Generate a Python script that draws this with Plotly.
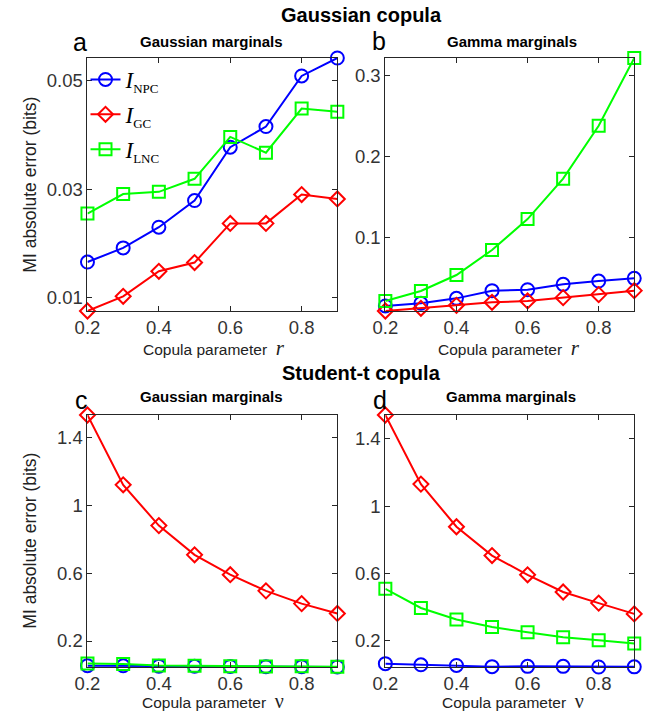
import plotly.graph_objects as go
from plotly.subplots import make_subplots

# ---------------- data ----------------
param = [0.2, 0.3, 0.4, 0.5, 0.6, 0.7, 0.8, 0.9]

a_npc = [0.0166, 0.0192, 0.0230, 0.0279, 0.0377, 0.0415, 0.0508, 0.0541]
a_gc = [0.0076, 0.0103, 0.0149, 0.0165, 0.0237, 0.0237, 0.0290, 0.0282]
a_lnc = [0.0255, 0.0291, 0.0295, 0.0319, 0.0396, 0.0367, 0.0448, 0.0442]

b_npc = [0.0154, 0.0187, 0.0248, 0.0343, 0.0355, 0.0421, 0.0462, 0.0495]
b_gc = [0.0092, 0.0125, 0.0162, 0.0199, 0.0216, 0.0257, 0.0294, 0.0343]
b_lnc = [0.0216, 0.0339, 0.0536, 0.0844, 0.1226, 0.1725, 0.2378, 0.3214]

c_npc = [0.055, 0.054, 0.052, 0.051, 0.050, 0.049, 0.049, 0.047]
c_gc = [1.530, 1.119, 0.879, 0.707, 0.590, 0.495, 0.420, 0.362]
c_lnc = [0.067, 0.065, 0.056, 0.055, 0.052, 0.050, 0.051, 0.048]

d_npc = [0.065, 0.058, 0.054, 0.047, 0.049, 0.049, 0.045, 0.046]
d_gc = [1.540, 1.130, 0.877, 0.706, 0.592, 0.490, 0.424, 0.360]
d_lnc = [0.509, 0.395, 0.327, 0.282, 0.251, 0.221, 0.204, 0.184]

x_ticks = [0.2, 0.4, 0.6, 0.8]
y_ticks_a = [0.01, 0.03, 0.05]
y_ticks_b = [0.1, 0.2, 0.3]
y_ticks_cd = [0.2, 0.6, 1, 1.4]

series_names = ["NPC", "GC", "LNC"]
panel_titles = ["Gaussian marginals", "Gamma marginals", "Gaussian marginals", "Gamma marginals"]
panel_letters = ["a", "b", "c", "d"]
section_titles = ["Gaussian copula", "Student-t copula"]

# ---------------- styling ----------------
W, H = 646, 712
colors = {"NPC": "#0000FF", "GC": "#FF0000", "LNC": "#00FF00"}
symbols = {"NPC": "circle-open", "GC": "diamond-open", "LNC": "square-open"}
msizes = {"NPC": 13, "GC": 11.5, "LNC": 12}
SANS = "Liberation Sans, Arial, sans-serif"
SERIF = "Liberation Serif, Times New Roman, serif"
AX = "#262626"

fig = make_subplots(rows=2, cols=2)

panels = [
    (1, 1, [a_npc, a_gc, a_lnc], y_ticks_a),
    (1, 2, [b_npc, b_gc, b_lnc], y_ticks_b),
    (2, 1, [c_npc, c_gc, c_lnc], y_ticks_cd),
    (2, 2, [d_npc, d_gc, d_lnc], y_ticks_cd),
]

for pi, (r, c, data, yt) in enumerate(panels):
    for name, vals in zip(series_names, data):
        fig.add_trace(
            go.Scatter(
                x=param, y=vals, mode="lines+markers",
                name=f'<i>I</i><sub><span style="font-size:13px">{name}</span></sub>',
                line=dict(color=colors[name], width=2),
                marker=dict(symbol=symbols[name], size=msizes[name],
                            color=colors[name], line=dict(width=2, color=colors[name])),
                cliponaxis=False,
                showlegend=(pi == 0),
                legendgroup=name,
            ),
            row=r, col=c,
        )
    allv = [v for s in data for v in s]
    fig.update_yaxes(range=[min(allv), max(allv)], tickvals=yt, row=r, col=c)
    fig.update_xaxes(range=[min(param), max(param)], tickvals=x_ticks, row=r, col=c)

axis_style = dict(
    showline=True, linecolor=AX, linewidth=1, mirror="ticks",
    ticks="inside", ticklen=5, tickcolor=AX, showgrid=False, zeroline=False,
    tickfont=dict(family=SANS, size=18.5, color="#333333"),
)
fig.update_xaxes(**axis_style)
fig.update_yaxes(**axis_style)

def px_x(p):
    return p / W

def px_y(p):
    return 1 - p / H

xa = [px_x(76), px_x(331)]
xb = [px_x(380), px_x(634)]
ytop = [px_y(311), px_y(58)]
ybot = [px_y(667), px_y(415)]
fig.update_layout(
    xaxis=dict(domain=xa), yaxis=dict(domain=ytop),
    xaxis2=dict(domain=xb), yaxis2=dict(domain=ytop),
    xaxis3=dict(domain=xa), yaxis3=dict(domain=ybot),
    xaxis4=dict(domain=xb), yaxis4=dict(domain=ybot),
)

ann = []
def add_text(text, x, y, size, family=SANS, bold=False, angle=0, color="#000000"):
    ann.append(dict(text=(f"<b>{text}</b>" if bold else text), x=px_x(x), y=px_y(y),
                    xref="paper", yref="paper", showarrow=False, textangle=angle,
                    xanchor="center", yanchor="middle",
                    font=dict(family=family, size=size, color=color)))

add_text(section_titles[0], 356, 15, 20, bold=True)
add_text(section_titles[1], 356, 373, 20, bold=True)
letter_pos = [(68, 42), (374, 41), (70, 400), (375, 400)]
for L, (x, y) in zip(panel_letters, letter_pos):
    add_text(L, x, y, 25)
sub_pos = [(203, 42), (509, 42), (203, 397), (508, 396)]
for t, (x, y) in zip(panel_titles, sub_pos):
    add_text(t, x, y, 15, bold=True)

xl_a = 'Copula parameter  <i><span style="font-family:Liberation Serif;font-size:21px">r</span></i>'
xl_c = 'Copula parameter  <span style="font-family:Liberation Serif;font-size:20px">ν</span>'
add_text(xl_a, 205, 348, 15.5, color="#222222")
add_text(xl_a, 506, 348, 15.5, color="#222222")
add_text(xl_c, 204, 701, 15.5, color="#222222")
add_text(xl_c, 510, 701, 15.5, color="#222222")
add_text("MI absolute error (bits)", 17, 185, 17.5, angle=-90, color="#222222")
add_text("MI absolute error (bits)", 17, 541, 17.5, angle=-90, color="#222222")

fig.update_layout(
    width=W, height=H,
    margin=dict(l=0, r=0, t=0, b=0),
    paper_bgcolor="white", plot_bgcolor="white",
    annotations=ann,
    showlegend=True,
    legend=dict(
        x=px_x(74), y=px_y(58), xanchor="left", yanchor="top",
        bgcolor="rgba(0,0,0,0)", borderwidth=0,
        font=dict(family=SERIF, size=23, color="#000000"),
        itemwidth=30, tracegroupgap=2,
    ),
)

fig.write_html("out.html", config={"displayModeBar": False},
               post_script="document.body.style.margin='0';")
